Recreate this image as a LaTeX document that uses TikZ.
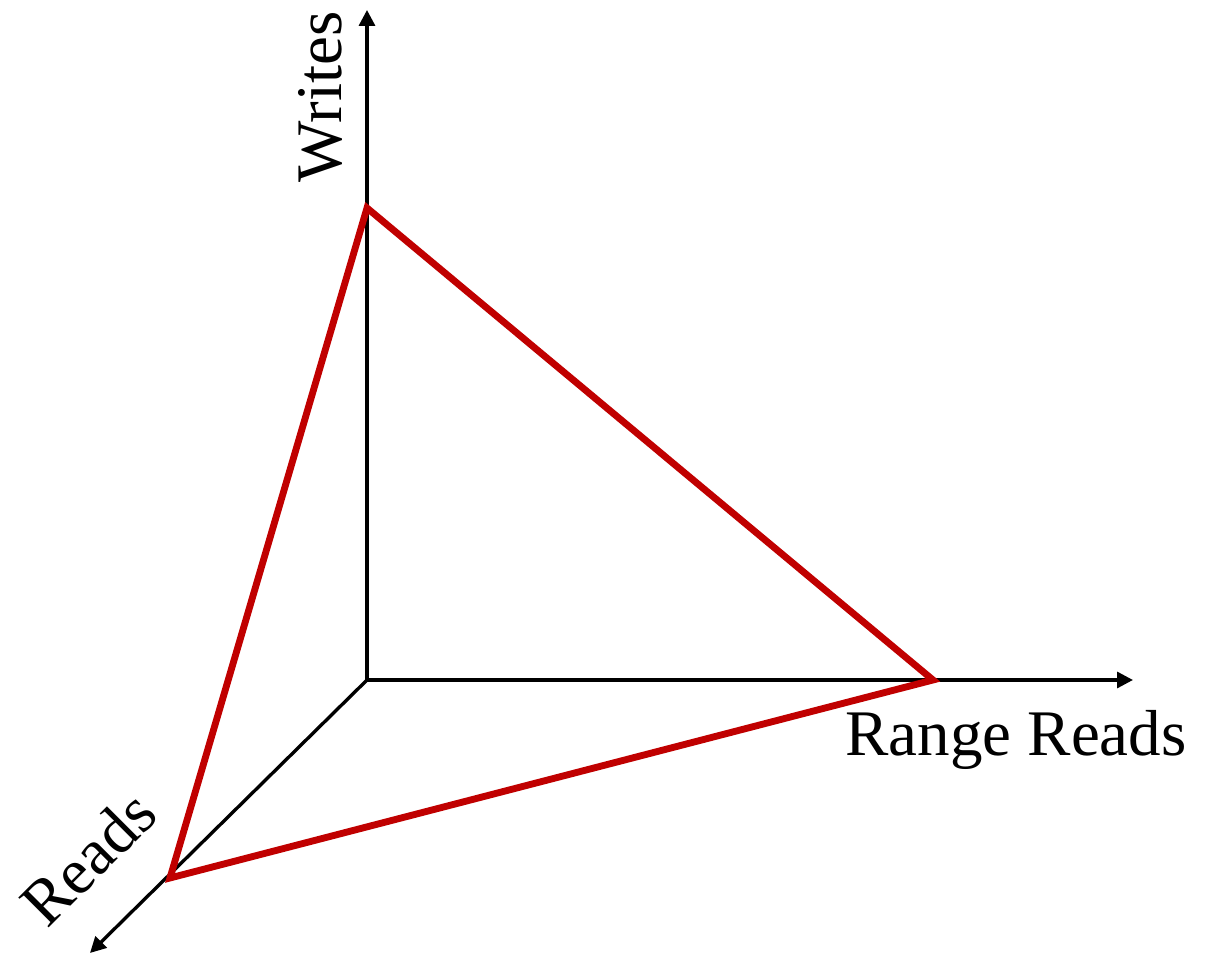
\documentclass[tikz,border=0pt]{standalone}
\usepackage{fontspec}
\setmainfont{Liberation Serif}
\usetikzlibrary{arrows.meta}
\definecolor{tri}{RGB}{192,0,0}

\begin{document}
\begin{tikzpicture}[axis/.style={line width=0.95pt,-{Triangle[length=4.5pt,width=4.5pt]}},
	tri/.style={line width=1.95pt,draw=tri,line join=miter},
	lbl/.style={font=\fontsize{18.5}{20}\selectfont,inner sep=0pt}]
%
	\useasboundingbox (0,0) rectangle (12.17,9.55);
	\coordinate (o) at (3.67,2.75);
	\coordinate (ytop) at (3.67,9.45);
	\coordinate (xend) at (11.33,2.75);
	\coordinate (zend) at (0.90,0.02);
	\coordinate (w) at (3.67,7.47);
	\coordinate (r) at (9.33,2.75);
	\coordinate (d) at (1.70,0.77);
%
	\draw[axis] (o) -- (ytop);
	\draw[axis] (o) -- (xend);
	\draw[axis] (o) -- (zend);
	\draw[tri] (w) -- (r) -- (d) -- cycle;
%
	\node[lbl,rotate=90] (writes) at (3.20,8.58) {Writes};
	\node[lbl] (range) at (10.16,2.15) {Range Reads};
	\node[lbl,rotate=45] (reads) at (0.88,0.97) {Reads};
%
\end{tikzpicture}
\end{document}
